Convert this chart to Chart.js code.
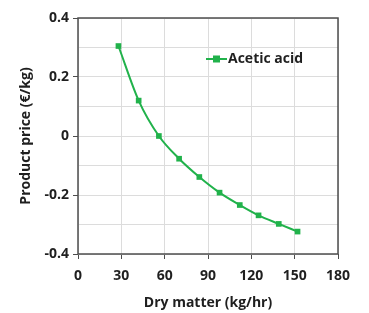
<!DOCTYPE html>
<html>
<head>
<meta charset="utf-8">
<script src="https://cdn.jsdelivr.net/npm/chart.js@4.4.1/dist/chart.umd.min.js"></script>
<style>
  html, body { margin: 0; padding: 0; background: #fff; }
  #wrap { width: 369px; height: 313px; }
</style>
</head>
<body>
<div id="wrap"><canvas id="priceChart" width="369" height="313"></canvas></div>
<script>
"use strict";

// data
var dryMatter = [28, 42, 56, 70, 84, 98, 112, 125, 139, 152];
var aceticPrice = [0.305, 0.12, 0.0, -0.077, -0.139, -0.192, -0.234, -0.269, -0.298, -0.324];
var seriesLabel = "Acetic acid";
var xTicks = [0, 30, 60, 90, 120, 150, 180];
var yLabels = [-0.4, -0.2, 0, 0.2, 0.4];

var green = "#21b24b";
var textColor = "#1f1f1f";
var fontFam = "'Open Sans', 'DejaVu Sans', sans-serif";

// frame round the plot + legend inside the plot area
var framePlugin = {
  id: "frame",
  afterDraw: function (chart) {
    var ctx = chart.ctx;
    var a = chart.chartArea;
    ctx.save();
    ctx.strokeStyle = "#4d4d4d";
    ctx.lineWidth = 1.5;
    ctx.strokeRect(a.left, a.top, a.right - a.left, a.bottom - a.top);

    // legend
    var lx = a.left + 128, ly = a.top + 41;
    ctx.strokeStyle = green;
    ctx.lineWidth = 2;
    ctx.beginPath();
    ctx.moveTo(lx, ly);
    ctx.lineTo(lx + 21, ly);
    ctx.stroke();
    ctx.fillStyle = green;
    ctx.fillRect(lx + 10.5 - 3.5, ly - 3.5, 7, 7);
    ctx.fillStyle = textColor;
    ctx.font = "bold 14px " + fontFam;
    ctx.textBaseline = "middle";
    ctx.fillText(chart.data.datasets[0].label, lx + 22, ly + 0.5);
    ctx.restore();
  }
};

var points = dryMatter.map(function (x, i) { return { x: x, y: aceticPrice[i] }; });

new Chart(document.getElementById("priceChart"), {
  type: "line",
  data: {
    datasets: [{
      label: seriesLabel,
      data: points,
      borderColor: green,
      backgroundColor: green,
      borderWidth: 2,
      pointStyle: "rect",
      pointRadius: 4,
      pointBorderWidth: 0,
      tension: 0.4,
      cubicInterpolationMode: "monotone"
    }]
  },
  options: {
    responsive: false,
    animation: false,
    layout: { padding: { top: 18, right: 31, left: 0, bottom: 0 } },
    plugins: {
      legend: { display: false },
      tooltip: { enabled: false }
    },
    scales: {
      x: {
        type: "linear",
        min: 0,
        max: 180,
        afterBuildTicks: function (scale) {
          scale.ticks = xTicks.map(function (v) { return { value: v }; });
        },
        afterFit: function (scale) { scale.height = 59; },
        grid: { color: "#dcdcdc", lineWidth: 1, tickLength: 5, tickColor: "#4d4d4d", drawTicks: true },
        border: { display: false },
        ticks: { color: textColor, font: { family: fontFam, size: 14, weight: "bold" }, padding: 9, maxRotation: 0 },
        title: { display: true, text: "Dry matter (kg/hr)", color: textColor, font: { family: fontFam, size: 14, weight: "bold" }, padding: { top: 2, bottom: 2 } }
      },
      y: {
        type: "linear",
        min: -0.4,
        max: 0.4,
        afterBuildTicks: function (scale) {
          var t = [];
          for (var i = -4; i <= 4; i++) t.push({ value: i / 10 });
          scale.ticks = t;
        },
        afterFit: function (scale) { scale.width = 78; },
        grid: {
          color: "#dcdcdc",
          lineWidth: 1,
          tickLength: 5,
          tickColor: function (c) {
            var v = Math.round(c.tick.value * 10);
            return v % 2 === 0 ? "#4d4d4d" : "rgba(0,0,0,0)";
          }
        },
        border: { display: false },
        ticks: {
          color: textColor,
          font: { family: fontFam, size: 14, weight: "bold" },
          padding: 4,
          callback: function (v) {
            var r = Math.round(v * 10) / 10;
            for (var i = 0; i < yLabels.length; i++) {
              if (Math.abs(yLabels[i] - r) < 1e-6) return String(yLabels[i]);
            }
            return "";
          }
        },
        title: { display: true, text: "Product price (€/kg)", color: textColor, font: { family: fontFam, size: 14, weight: "bold" }, padding: { top: 18, bottom: 2 } }
      }
    }
  },
  plugins: [framePlugin]
});
</script>
</body>
</html>
